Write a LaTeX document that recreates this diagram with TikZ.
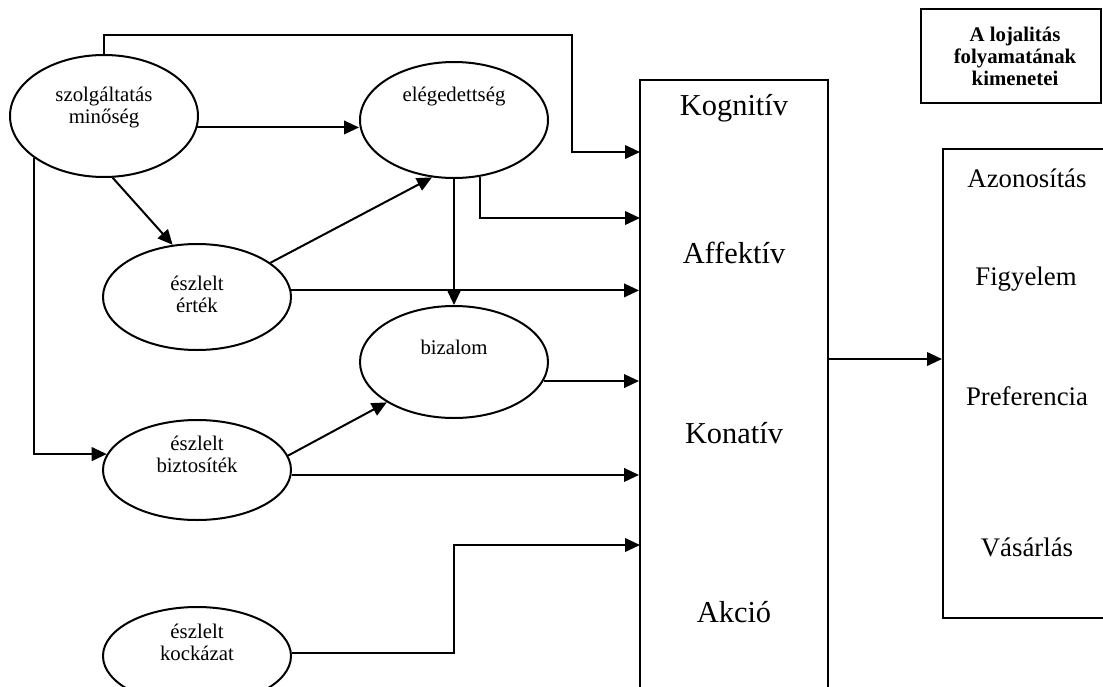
\documentclass[tikz,border=0pt]{standalone}
\usepackage{fontspec}
\setmainfont{Liberation Serif}
\usetikzlibrary{shapes.geometric,arrows.meta}

\begin{document}
\begin{tikzpicture}[x=0.5pt,y=-0.5pt,
  line width=1pt,
  >={Triangle[length=7.5pt,width=6.8pt]},
  oval/.style={draw,ellipse,inner sep=0pt,minimum width=94pt},
  ovaltext/.style={font=\fontsize{10.4}{11}\selectfont,align=center,inner sep=0pt},
  bigtext/.style={font=\fontsize{15.2}{18}\selectfont,inner sep=0pt},
  outtext/.style={font=\fontsize{13.4}{16}\selectfont,inner sep=0pt},
  frame/.style={draw,rectangle,inner sep=0pt}
]
\clip (0,0) rectangle (1103,686);
\fill[white] (0,0) rectangle (1103,686);

% ellipses of the antecedents
\node[oval,minimum height=61pt] (szolg) at (104,116) {};
\node[ovaltext] (szolgT) at (104,108) {szolgáltatás\\minőség};
\node[oval,minimum height=58pt] (eleg) at (454,120) {};
\node[ovaltext] (elegT) at (454,97) {elégedettség};
\node[oval,minimum height=53pt] (ertek) at (197,297) {};
\node[ovaltext] (ertekT) at (197,294) {észlelt\\érték};
\node[oval,minimum height=56pt] (biz) at (454,362) {};
\node[ovaltext] (bizT) at (454,347) {bizalom};
\node[oval,minimum height=50pt] (bizt) at (197,470) {};
\node[ovaltext] (biztT) at (197,454) {észlelt\\biztosíték};
\node[oval,minimum height=49pt] (kock) at (197,656) {};
\node[ovaltext] (kockT) at (197,642) {észlelt\\kockázat};

% loyalty stages box (runs past the lower edge)
\node[frame,minimum width=94pt,minimum height=340pt] (box) at (734,420) {};
\node[bigtext] (kog) at (734,108) {Kognitív};
\node[bigtext] (aff) at (734,253) {Affektív};
\node[bigtext] (kon) at (734,433) {Konatív};
\node[bigtext] (akc) at (734,612) {Akció};

% outcomes (the outcome box runs past the right edge)
\node[frame,minimum width=90pt,minimum height=47pt] (title) at (1011,56)
  {};
\node[font=\fontsize{10.4}{11}\bfseries\selectfont,align=center,inner sep=0pt]
  (titleT) at (1015,56) {A lojalitás\\folyamatának\\kimenetei};
\node[frame,minimum width=88.5pt,minimum height=234.5pt] (rbox) at (1031.5,383.5) {};
\node[outtext] (azo) at (1027,178) {Azonosítás};
\node[outtext] (fig) at (1026,279) {Figyelem};
\node[outtext] (pre) at (1027,396) {Preferencia};
\node[outtext] (vas) at (1027,547) {Vásárlás};

% bend points and box inputs
\coordinate (topA) at (572,35);
\coordinate (in1) at (640,152);
\coordinate (in2) at (640,218);
\coordinate (in6) at (640,545);
\coordinate (out) at (828,359);

% connectors
\draw[->] (szolg.north) |- (topA) |- (in1);
\draw[->] (szolg.-7) -- (szolg.-7 -| eleg.west);
\draw[->] (szolg.-82) -- (ertek.115);
\draw[->] (szolg.211) |- (bizt.170.5);
\draw[->] (ertek.25) -- (eleg.249);
\draw[->] (eleg.-65) |- (in2);
\draw[->] (eleg.south) -- (biz.north);
\draw[->] (ertek.4.3) -- (ertek.4.3 -| box.west);
\draw[->] (biz.-12) -- (biz.-12 -| box.west);
\draw[->] (bizt.9.5) -- (biz.211);
\draw[->] (bizt.-3.7) -- (bizt.-3.7 -| box.west);
\draw[->] (kock.2) -- (kock.2 -| biz.south) |- (in6);
\draw[->] (out) -- (out -| rbox.west);
\end{tikzpicture}
\end{document}
